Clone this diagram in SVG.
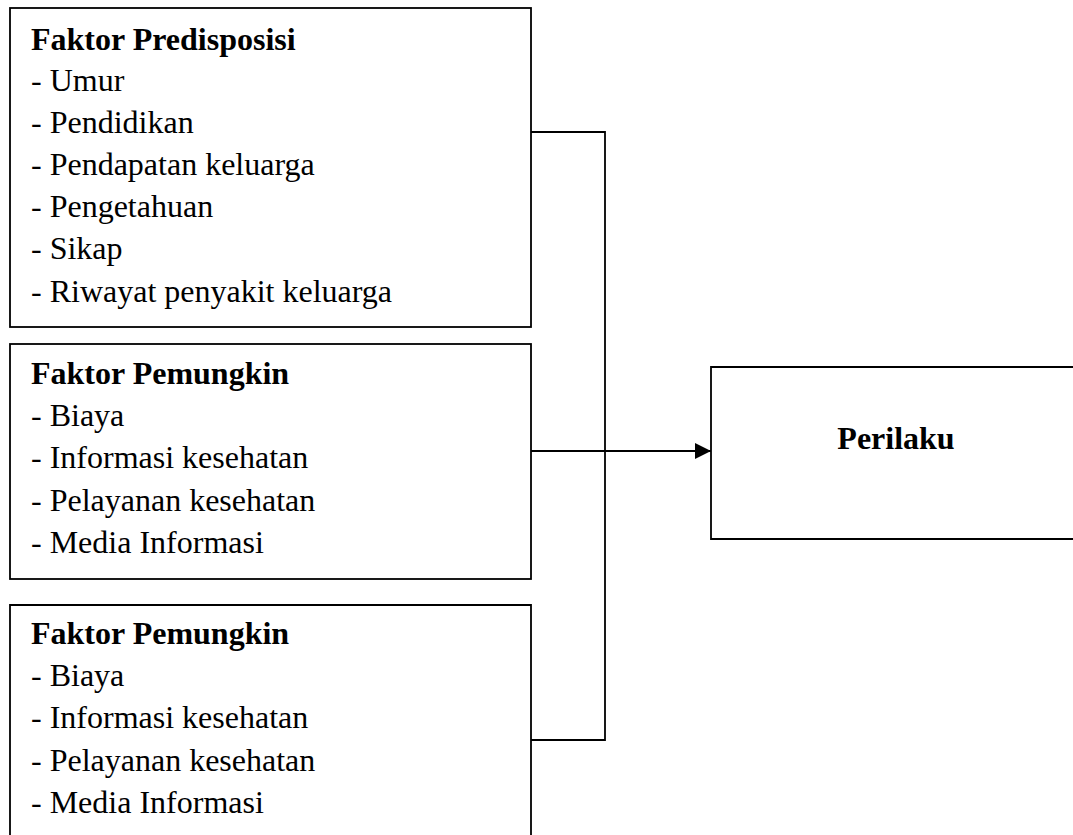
<svg xmlns="http://www.w3.org/2000/svg" width="1073" height="835" viewBox="0 0 1073 835">
  <style>
    .box { fill: #ffffff; stroke: #000000; stroke-width: 1.8; }
    .line { fill: none; stroke: #000000; stroke-width: 1.8; }
    text { font-family: "Liberation Serif", "Times New Roman", serif; font-size: 32px; fill: #000000; }
    .title { font-weight: bold; }
  </style>
  <defs>
    <marker id="arrow" markerUnits="userSpaceOnUse" markerWidth="17" markerHeight="16" refX="16" refY="8" orient="auto">
      <path d="M0,0 L16,8 L0,16 Z" fill="#000000"/>
    </marker>
  </defs>
  <rect width="1073" height="835" fill="#ffffff"/>

  <g id="faktor-predisposisi">
    <rect class="box" x="10" y="8" width="521" height="319"/>
    <text class="title" x="31" y="50">Faktor Predisposisi</text>
    <text x="31" y="91">- Umur</text>
    <text x="31" y="133">- Pendidikan</text>
    <text x="31" y="175">- Pendapatan keluarga</text>
    <text x="31" y="217">- Pengetahuan</text>
    <text x="31" y="259">- Sikap</text>
    <text x="31" y="302">- Riwayat penyakit keluarga</text>
  </g>

  <g id="faktor-pemungkin-1">
    <rect class="box" x="10" y="344" width="521" height="235"/>
    <text class="title" x="31" y="384">Faktor Pemungkin</text>
    <text x="31" y="426">- Biaya</text>
    <text x="31" y="468">- Informasi kesehatan</text>
    <text x="31" y="511">- Pelayanan kesehatan</text>
    <text x="31" y="553">- Media Informasi</text>
  </g>

  <g id="faktor-pemungkin-2">
    <path class="box" d="M10,840 L10,605 L531,605 L531,840"/>
    <text class="title" x="31" y="644">Faktor Pemungkin</text>
    <text x="31" y="686">- Biaya</text>
    <text x="31" y="728">- Informasi kesehatan</text>
    <text x="31" y="771">- Pelayanan kesehatan</text>
    <text x="31" y="813">- Media Informasi</text>
  </g>

  <g id="perilaku">
    <path class="box" d="M1080,367 L711,367 L711,539 L1080,539"/>
    <text class="title" x="896" y="449" text-anchor="middle">Perilaku</text>
  </g>

  <g id="connectors">
    <path class="line" d="M531,132 L605,132 L605,740 L531,740"/>
    <path class="line" d="M531,451 L711,451" marker-end="url(#arrow)"/>
  </g>
</svg>
